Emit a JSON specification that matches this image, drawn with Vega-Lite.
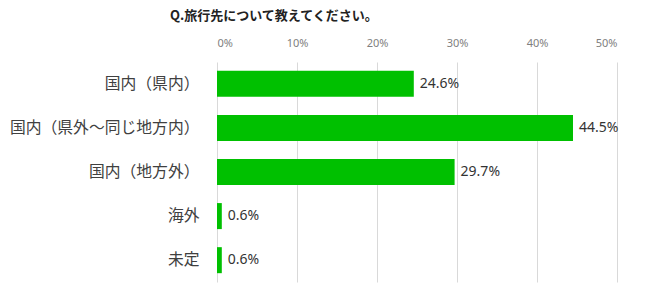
{
  "$schema": "https://vega.github.io/schema/vega-lite/v6.json",
  "autosize": {"type": "none"},
  "width": 400,
  "height": 220,
  "padding": {"left": 217, "top": 62, "right": 33, "bottom": 8},
  "background": "white",
  "title": {
    "text": "Q.旅行先について教えてください。",
    "font": "Noto Sans CJK JP",
    "fontSize": 13,
    "fontWeight": "bold",
    "color": "#222222",
    "anchor": "start",
    "frame": "group",
    "dx": -47,
    "offset": 14
  },
  "data": {
    "values": [
      {"category": "国内（県内）", "value": 0.246, "label": "24.6%"},
      {"category": "国内（県外～同じ地方内）", "value": 0.445, "label": "44.5%"},
      {"category": "国内（地方外）", "value": 0.297, "label": "29.7%"},
      {"category": "海外", "value": 0.006, "label": "0.6%"},
      {"category": "未定", "value": 0.006, "label": "0.6%"}
    ]
  },
  "encoding": {
    "y": {
      "field": "category",
      "type": "nominal",
      "sort": null,
      "scale": {"paddingInner": 0.41, "paddingOuter": 0.2},
      "axis": {
        "title": null,
        "domain": false,
        "ticks": false,
        "labelFont": "Noto Sans CJK JP",
        "labelFontSize": 15.8,
        "labelColor": "#404040",
        "labelPadding": 18,
        "labelLimit": 400
      }
    },
    "x": {
      "field": "value",
      "type": "quantitative",
      "scale": {"domain": [0, 0.5], "nice": false},
      "axis": {
        "orient": "top",
        "title": null,
        "format": ".0%",
        "values": [0, 0.1, 0.2, 0.3, 0.4, 0.5],
        "domain": false,
        "ticks": false,
        "labelFont": "Noto Sans",
        "labelFontSize": 11,
        "labelColor": "#808080",
        "labelPadding": 14,
        "grid": true,
        "gridColor": "#d9d9d9",
        "gridWidth": 1
      }
    }
  },
  "layer": [
    {"mark": {"type": "bar", "color": "#00C000"}},
    {
      "mark": {
        "type": "text",
        "align": "left",
        "baseline": "middle",
        "dx": 6,
        "font": "Noto Sans",
        "fontSize": 14,
        "color": "#333333"
      },
      "encoding": {"text": {"field": "label"}}
    }
  ],
  "config": {"view": {"stroke": null}}
}
